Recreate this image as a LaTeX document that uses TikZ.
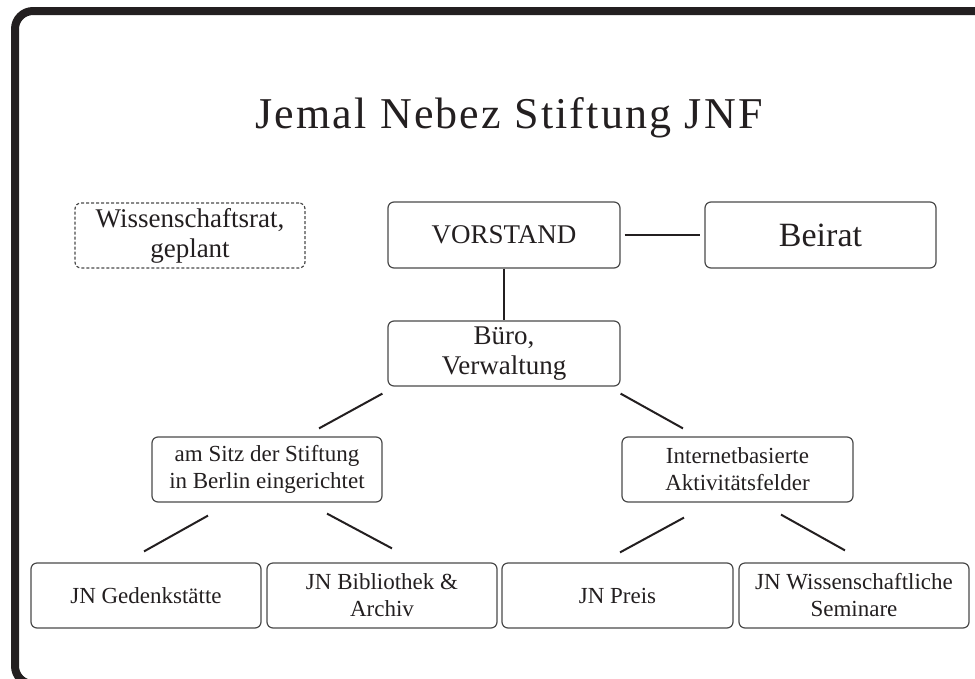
\documentclass[tikz,border=0pt]{standalone}
\usepackage{fontspec}
\setmainfont{Liberation Serif}
\newfontfamily\titlefont[LetterSpace=5]{Liberation Serif}
\usetikzlibrary{calc}
\definecolor{ink}{HTML}{231F20}
\definecolor{boxline}{HTML}{4A4A4A}
\tikzset{
  orgbox/.style={draw=boxline, line width=1.2pt, rounded corners=6pt, inner sep=0pt,
    align=center, text=ink},
  topbox/.style={orgbox, minimum height=65pt, font=\fontsize{27}{30}\selectfont},
  lowbox/.style={orgbox, minimum height=65pt, font=\fontsize{23}{27}\selectfont},
  planbox/.style={topbox, densely dashed},
  conn/.style={draw=ink, line width=2pt},
}
\begin{document}
\begin{tikzpicture}[x=1pt,y=-1pt]
\useasboundingbox (0,0) rectangle (975,678);
\clip (0,0) rectangle (975,678);
% outer frame
\draw[ink, line width=8pt, rounded corners=18pt] (15,11) rectangle (995,684);
% title
\node[text=ink, font=\titlefont\fontsize{44}{50}\selectfont, anchor=base] (title) at (509,128) {Jemal Nebez Stiftung JNF};
% top level
\node[planbox, minimum width=230pt] (wiss) at (190,235.5) {Wissenschaftsrat,\\geplant};
\node[topbox, minimum width=232pt, minimum height=66pt] (vor) at (504,235) {VORSTAND};
\node[topbox, minimum width=231pt, minimum height=66pt, font=\fontsize{34}{38}\selectfont] (beirat) at (820.5,235) {Beirat};
\node[topbox, minimum width=232pt] (buero) at (504,353.5) {Büro,\\Verwaltung};
% middle level
\node[lowbox, minimum width=230pt] (sitz) at (267,469.5) {am Sitz der Stiftung\\in Berlin eingerichtet};
\node[lowbox, minimum width=231pt] (inet) at (737.5,469.5) {Internetbasierte\\Aktivitätsfelder};
% bottom level
\node[lowbox, minimum width=230pt] (ged) at (146,595.5) {JN Gedenkstätte};
\node[lowbox, minimum width=230pt] (bib) at (382,595.5) {JN Bibliothek \&\\Archiv};
\node[lowbox, minimum width=231pt] (preis) at (617.5,595.5) {JN Preis};
\node[lowbox, minimum width=230pt] (wsem) at (854,595.5) {JN Wissenschaftliche\\Seminare};
% connectors
\draw[conn, shorten <=4pt, shorten >=4pt] (vor.east) -- (beirat.west);
\draw[conn] (vor.south) -- (buero.north);
\draw[conn] ($(buero.south west)+(-5,7)$) -- ($(sitz.north)+(52,-8)$);
\draw[conn] ($(buero.south east)+(0,7)$) -- ($(inet.north)+(-54.5,-8)$);
\draw[conn] ($(sitz.south)+(-59,13)$) -- ($(ged.north)+(-2,-11)$);
\draw[conn] ($(sitz.south)+(60,11)$) -- ($(bib.north)+(10,-14)$);
\draw[conn] ($(inet.south)+(-53.5,15)$) -- ($(preis.north)+(2.5,-10)$);
\draw[conn] ($(inet.south)+(43.5,12)$) -- ($(wsem.north)+(-9,-12)$);
\end{tikzpicture}
\end{document}
